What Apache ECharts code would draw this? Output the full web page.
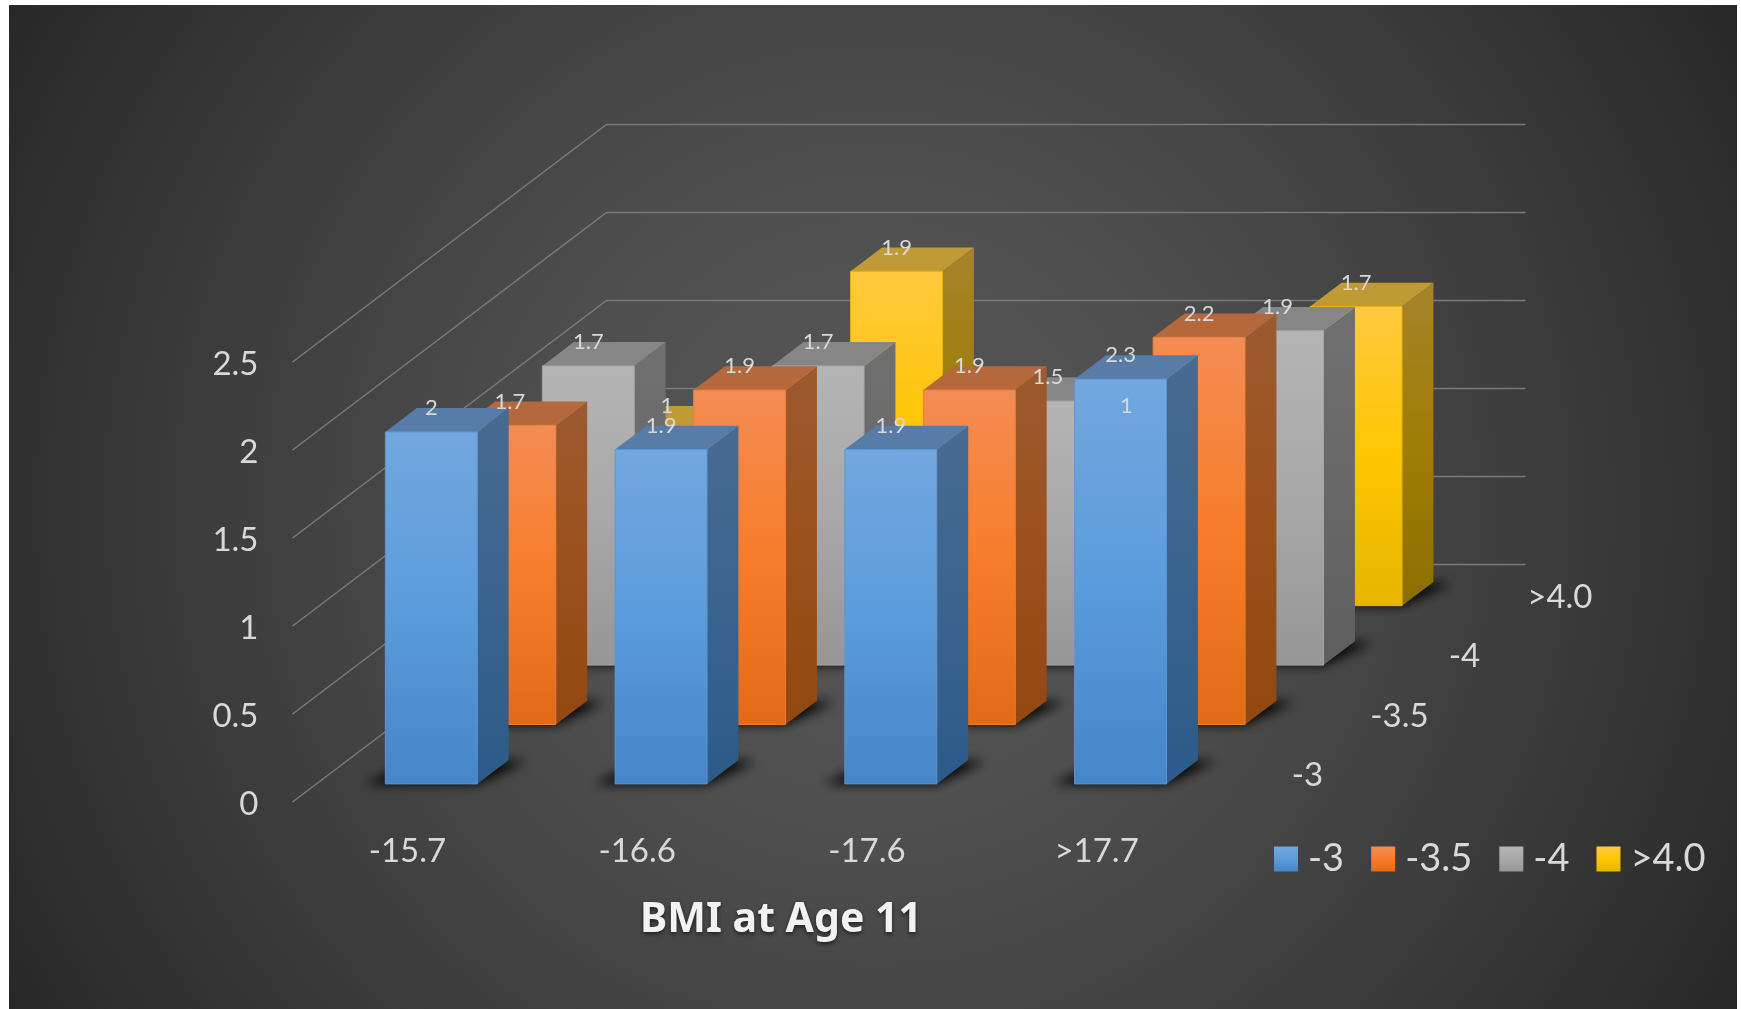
<!DOCTYPE html>
<html>
<head>
<meta charset="utf-8">
<title>BMI at Age 11</title>
<style>
  html, body { margin: 0; padding: 0; background: #ffffff; }
  #chart { width: 1741px; height: 1009px; }
</style>
<script src="https://cdn.jsdelivr.net/npm/echarts@6/dist/echarts.min.js"></script>
</head>
<body>
<div id="chart"></div>
<script>
// Chart data
const bmiCategories = ['-15.7', '-16.6', '-17.6', '>17.7'];
const seriesNames = ['-3', '-3.5', '-4', '>4.0'];
const valuesMinus3 = [2, 1.9, 1.9, 2.3];
const valuesMinus35 = [1.7, 1.9, 1.9, 2.2];
const valuesMinus4 = [1.7, 1.7, 1.5, 1.9];
const valuesOver4 = [1, 1.9, 1, 1.7];
const valueTicks = [0, 0.5, 1, 1.5, 2, 2.5];

// Oblique projection: one row of depth moves a point right and up by these amounts.
const ROW_DX = 78.5;
const ROW_DY = -59.4;
const BAR_FRONT = 0.305;  // depth of a bar's front face inside its row
const BAR_DEPTH = 0.4;    // depth of a bar, in rows
const BAR_WIDTH = 0.4;    // width of a bar, as a share of the category band
const SHADOW_AWAY = 4000; // floor shadows are cast from shapes parked off the canvas
const LABEL_FONT = 'Lato, "Noto Sans", sans-serif';
const TEXT_COLOR = '#d9d9d9';

function vGrad(stops) {
  return new echarts.graphic.LinearGradient(0, 0, 0, 1,
    stops.map(function (c, i) { return { offset: i / (stops.length - 1), color: c }; }));
}

// Face colours for each series: front, side, top.
const palette = [
  { front: ['#73a7df', '#5b9cdc', '#4685c8'], side: ['#476a92', '#3b648f', '#2c5b89'], top: '#577ca7', edge: '#5f96d0' },
  { front: ['#f48c54', '#f87d2a', '#e26a16'], side: ['#9c5a30', '#9c501c', '#934810'], top: '#b5683c', edge: '#e8803c' },
  { front: ['#b4b4b4', '#a8a8a8', '#969696'], side: ['#707070', '#686868', '#5f5f5f'], top: '#868686', edge: '#a4a4a4' },
  { front: ['#ffc93f', '#ffc600', '#e6b500'], side: ['#a6832a', '#a07d05', '#8c6f00'], top: '#c09a35', edge: '#e8b414' }
];

function shift(p, d) { return [p[0] + d * ROW_DX, p[1] + d * ROW_DY]; }

function barRenderer(row) {
  const look = palette[row];
  return function (params, api) {
    const cat = api.value(0);
    const base = api.coord([cat, 0]);
    const tip = api.coord([cat, api.value(1)]);
    const half = api.size([1, 0])[0] * BAR_WIDTH / 2;
    const d0 = row + BAR_FRONT;
    const d1 = d0 + BAR_DEPTH;
    const fl = [base[0] - half, base[1]];
    const fr = [base[0] + half, base[1]];
    const tl = [base[0] - half, tip[1]];
    const tr = [base[0] + half, tip[1]];
    const poly = function (pts, fill, extra) {
      return {
        type: 'polygon',
        shape: { points: pts },
        style: Object.assign({ fill: fill }, extra || {})
      };
    };
    const away = function (p, dx, dy) { return [p[0] + dx - SHADOW_AWAY, p[1] + dy]; };
    const floorShadow = poly([
      away(shift(fl, d0), -22, 0),
      away(shift(fr, d0), 0, 0),
      away(shift(fr, d1), 18, 1),
      away(shift(fl, d1), 0, 1)
    ], '#000000', {
      shadowBlur: 12,
      shadowColor: 'rgba(0,0,0,1)',
      shadowOffsetX: SHADOW_AWAY
    });
    const side = poly([shift(fr, d0), shift(fr, d1), shift(tr, d1), shift(tr, d0)], vGrad(look.side));
    const top = poly([shift(tl, d0), shift(tr, d0), shift(tr, d1), shift(tl, d1)], look.top);
    const front = poly([shift(fl, d0), shift(fr, d0), shift(tr, d0), shift(tl, d0)], vGrad(look.front),
      { stroke: look.edge, lineWidth: 1 });
    return { type: 'group', children: [floorShadow, side, top, front] };
  };
}

// Guide lines: up the side wall and along the back wall at every tick.
function wallRenderer(params, api) {
  const p = api.coord([0, api.value(1)]);
  const band = api.size([1, 0])[0];
  const left = p[0] - band / 2;
  const right = left + band * bmiCategories.length;
  const corner = shift([left, p[1]], seriesNames.length);
  const end = shift([right, p[1]], seriesNames.length);
  return {
    type: 'polyline',
    shape: { points: [[left, p[1]], corner, end] },
    style: { fill: null, stroke: '#7a7a7a', lineWidth: 1.5 }
  };
}

// Value labels sit above the front-face centre, level with the back of the top face.
function valueLabelRenderer(params, api) {
  const row = api.value(2);
  const p = shift(api.coord([api.value(0), api.value(1)]), row + BAR_FRONT);
  return {
    type: 'text',
    style: {
      text: String(api.value(1)),
      x: p[0],
      y: p[1] + BAR_DEPTH * ROW_DY,
      align: 'center',
      verticalAlign: 'middle',
      fill: TEXT_COLOR,
      fontSize: 22,
      fontFamily: LABEL_FONT
    }
  };
}

// Series names along the right-hand floor edge.
function rowLabelRenderer(params, api) {
  const row = api.value(2);
  const c = api.coord([bmiCategories.length - 1, 0]);
  const band = api.size([1, 0])[0];
  const p = shift([c[0] + band / 2, c[1]], row + 0.5);
  return {
    type: 'text',
    style: {
      text: seriesNames[row],
      x: p[0] + 41,
      y: p[1] + 3,
      align: 'left',
      verticalAlign: 'middle',
      fill: TEXT_COLOR,
      fontSize: 33,
      fontFamily: LABEL_FONT
    }
  };
}

const seriesValues = [valuesMinus3, valuesMinus35, valuesMinus4, valuesOver4];

const barSeries = seriesNames.map(function (name, row) {
  return {
    type: 'custom',
    name: name,
    z: 10 - row,
    silent: true,
    renderItem: barRenderer(row),
    itemStyle: { color: vGrad(palette[row].front) },
    encode: { x: 0, y: 1 },
    data: seriesValues[row].map(function (v, i) { return [i, v]; })
  };
});

const valueLabelData = [];
seriesValues.forEach(function (vals, row) {
  vals.forEach(function (v, i) { valueLabelData.push([i, v, row]); });
});

const chart = echarts.init(document.getElementById('chart'), null, { renderer: 'canvas' });
chart.setOption({
  animation: false,
  backgroundColor: '#ffffff',
  graphic: [{
    type: 'rect',
    z: -10,
    silent: true,
    shape: { x: 9, y: 5, width: 1728, height: 1004 },
    style: {
      fill: new echarts.graphic.RadialGradient(873, 505, 1010, [
        { offset: 0, color: '#565656' },
        { offset: 0.3, color: '#505050' },
        { offset: 0.65, color: '#3d3d3d' },
        { offset: 1, color: '#272727' }
      ], true)
    }
  }],
  title: {
    text: 'BMI at Age 11',
    left: 776,
    top: 895,
    textAlign: 'center',
    textStyle: {
      color: '#f2f2f2',
      fontFamily: '"Noto Sans", Lato, sans-serif',
      fontWeight: 'bold',
      fontSize: 41,
      textShadowColor: 'rgba(0,0,0,0.6)',
      textShadowBlur: 4,
      textShadowOffsetY: 2
    }
  },
  legend: {
    left: 1274,
    top: 840,
    padding: 0,
    itemWidth: 24,
    itemHeight: 25,
    itemGap: 27,
    selectedMode: false,
    icon: 'rect',
    data: seriesNames,
    textStyle: { color: TEXT_COLOR, fontFamily: LABEL_FONT, fontSize: 38, padding: [0, 0, 0, 5] }
  },
  grid: { left: 292.5, top: 362, width: 919, height: 440, containLabel: false },
  xAxis: {
    type: 'category',
    data: bmiCategories,
    axisLine: { show: false },
    axisTick: { show: false },
    splitLine: { show: false },
    axisLabel: { color: TEXT_COLOR, fontFamily: LABEL_FONT, fontSize: 33, margin: 33 }
  },
  yAxis: {
    type: 'value',
    min: 0,
    max: 2.5,
    interval: 0.5,
    axisLine: { show: false },
    axisTick: { show: false },
    splitLine: { show: false },
    axisLabel: {
      margin: 34,
      formatter: '{tick|{value}}',
      rich: {
        tick: { color: TEXT_COLOR, fontFamily: LABEL_FONT, fontSize: 33, padding: [5, 0, 0, 0] }
      }
    }
  },
  series: [{
    type: 'custom',
    name: 'walls',
    z: 1,
    silent: true,
    renderItem: wallRenderer,
    encode: { x: 0, y: 1 },
    data: valueTicks.map(function (v) { return [0, v]; })
  }].concat(barSeries).concat([{
    type: 'custom',
    name: 'row labels',
    z: 20,
    silent: true,
    renderItem: rowLabelRenderer,
    encode: { x: 0, y: 1 },
    data: seriesNames.map(function (n, row) { return [bmiCategories.length - 1, 0, row]; })
  }, {
    type: 'custom',
    name: 'value labels',
    z: 21,
    silent: true,
    renderItem: valueLabelRenderer,
    encode: { x: 0, y: 1 },
    data: valueLabelData
  }])
});
</script>
</body>
</html>
